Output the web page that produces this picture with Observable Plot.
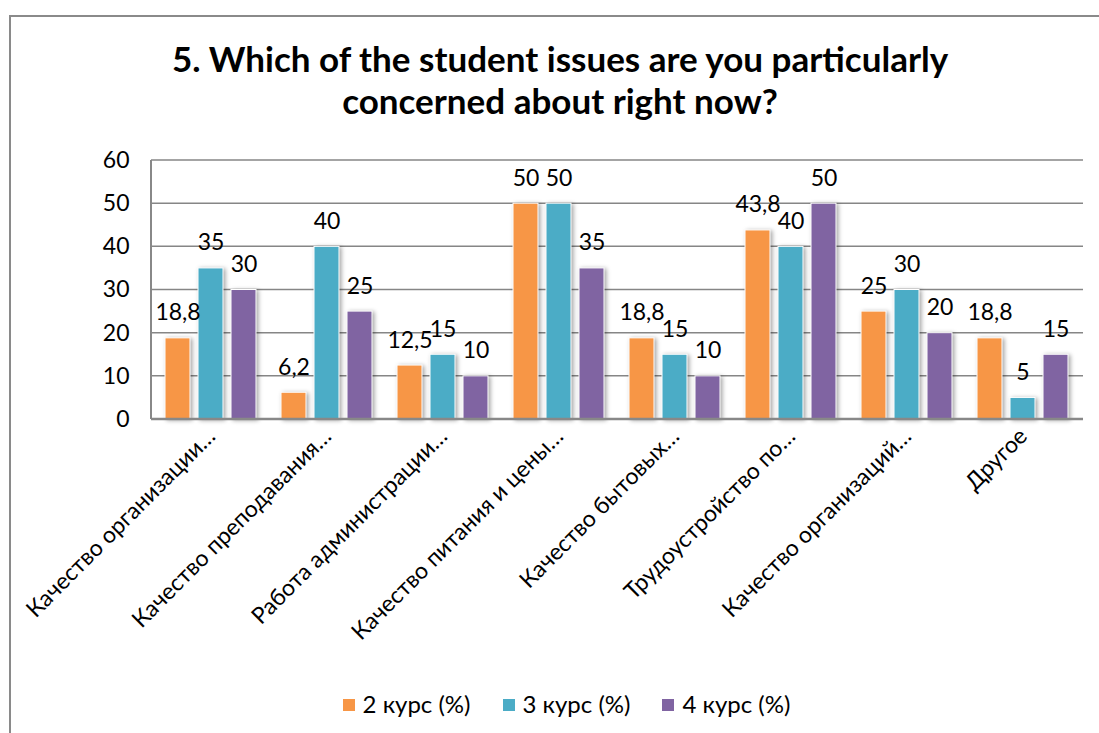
<!DOCTYPE html>
<html><head><meta charset="utf-8">
<script src="https://cdn.jsdelivr.net/npm/d3@7"></script>
<script src="https://cdn.jsdelivr.net/npm/@observablehq/plot@0.6"></script>
<style>
body{margin:0;background:#fff;font-family:Lato,"Noto Sans",sans-serif;width:1099px;height:733px;overflow:hidden;position:relative}
#border{position:absolute;left:9px;top:15px;width:1200px;height:800px;border-left:2px solid #8a8a8a;border-top:2px solid #8a8a8a}
#title{position:absolute;left:0;top:37px;width:1120px;text-align:center;font-weight:bold;font-size:35px;line-height:42px;color:#000}
#chart{position:absolute;left:0;top:130px}
#legend{position:absolute;left:0;top:689px;width:1133px;display:flex;justify-content:center;gap:32px;font-size:24px;line-height:30px;color:#000}
#legend span.item{display:flex;align-items:center}
#legend span.sw{display:inline-block;width:12px;height:12px;margin-right:8px;position:relative;top:1px}
#chart g[aria-label="bar"] rect{filter:drop-shadow(2px 1px 2px rgba(0,0,0,0.35))}
</style>
</head><body>
<div id="border"></div>
<div id="title">5. Which of the student issues are you particularly<br>concerned about right now?</div>
<div id="chart"></div>
<div id="legend"></div>
<script>
const categories = ["Качество организации…","Качество преподавания…","Работа администрации…","Качество питания и цены…","Качество бытовых…","Трудоустройство по…","Качество организаций…","Другое"];
const series = ["2 курс (%)","3 курс (%)","4 курс (%)"];
const course2 = [18.8, 6.2, 12.5, 50, 18.8, 43.8, 25, 18.8];
const course3 = [35, 40, 15, 50, 15, 40, 30, 5];
const course4 = [30, 25, 10, 35, 10, 50, 20, 15];
const colors = ["#F79646","#4BACC6","#8064A2"];
const yTicks = [0,10,20,30,40,50,60];

const values = [course2, course3, course4];
const rows = categories.flatMap((c,i)=>values.map((v,j)=>({category:c, series:series[j], value:v[i]})));
const fmt = v => String(v).replace(".", ",");

const W = 1099, mL = 151, mR = 16, mT = 30;
const plot = Plot.plot({
  width:W, height:540, marginLeft:mL, marginRight:mR, marginTop:mT, marginBottom:251,
  style:{fontFamily:"Lato, 'Noto Sans', sans-serif", fontSize:"23px", color:"#000", background:"transparent", overflow:"visible"},
  fx:{domain:categories, paddingInner:0.193, paddingOuter:0.0966, label:null, axis:"bottom", tickRotate:-45, tickSize:0, tickPadding:13},
  x:{domain:series, paddingInner:0.235, paddingOuter:0, axis:null},
  y:{domain:[0,60], ticks:yTicks, tickSize:0, tickPadding:35, label:null},
  color:{domain:series, range:colors},
  marks:[
    Plot.barY(rows, {fx:"category", x:"series", y:"value", fill:"series", stroke:"#fff", strokeWidth:1}),
    Plot.text(rows, {fx:"category", x:"series", y:"value", text:d=>fmt(d.value), dy:-18, lineAnchor:"bottom", fontSize:23, fill:"#000"})
  ]
});
const ys = plot.scale("y");
const svg = d3.select(plot);
const grid = svg.insert("g", "g").attr("aria-label", "grid");
grid.selectAll("line").data(yTicks.slice(1)).join("line")
  .attr("x1", mL).attr("x2", W - mR)
  .attr("y1", d => ys.apply(d)).attr("y2", d => ys.apply(d))
  .attr("stroke", "#868686").attr("stroke-width", 1.5);
svg.append("line")
  .attr("x1", mL).attr("x2", W - mR)
  .attr("y1", ys.apply(0)).attr("y2", ys.apply(0))
  .attr("stroke", "#888").attr("stroke-width", 2.5);
svg.append("line")
  .attr("x1", mL).attr("x2", mL)
  .attr("y1", ys.apply(0)).attr("y2", ys.apply(60))
  .attr("stroke", "#888").attr("stroke-width", 2);
document.getElementById("chart").appendChild(plot);

const legend = d3.select("#legend");
series.forEach((s,i)=>{
  const it = legend.append("span").attr("class","item");
  it.append("span").attr("class","sw").style("background", colors[i]);
  it.append("span").text(s);
});
</script>
</body></html>
